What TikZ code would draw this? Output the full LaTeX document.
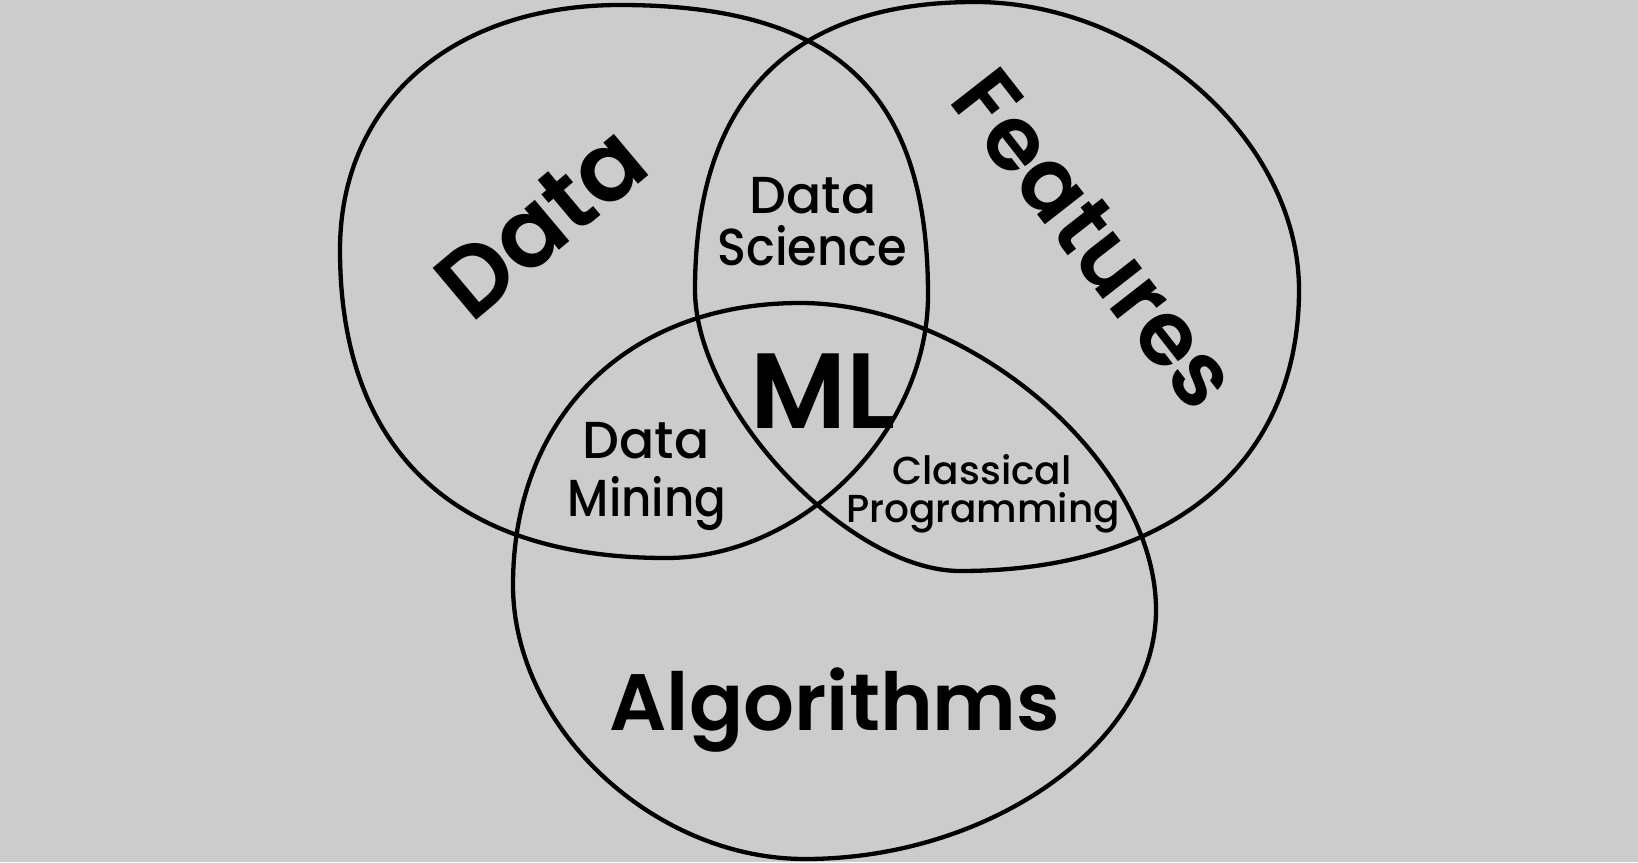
\documentclass[tikz,border=0pt]{standalone}
\usepackage{fontspec}
\setmainfont{Poppins}
\newfontfamily\popsemi{Poppins SemiBold}
\newfontfamily\popmed{Poppins Medium}
\definecolor{bg}{HTML}{CCCCCC}
\tikzset{
  blob/.style={draw=black, line width=4.3pt, line join=round},
  big/.style={font=\fontsize{97}{100}\selectfont\popsemi, inner sep=0pt},
  mid/.style={font=\fontsize{52}{56}\selectfont\popmed, inner sep=0pt, anchor=base},
  small/.style={font=\fontsize{39}{44}\selectfont\popmed, inner sep=0pt, anchor=base},
}
\begin{document}
\begin{tikzpicture}[x=1pt, y=-1pt]
\fill[bg] (0,0) rectangle (1638,862);
\useasboundingbox (0,0) rectangle (1638,862);
% Data
\draw[blob] (620,5) .. controls (836,5) and (928,92) .. (928,295)
  .. controls (928,432) and (802,558) .. (666,558)
  .. controls (454,558) and (340,450) .. (340,250)
  .. controls (340,103) and (452,5) .. (620,5) -- cycle;
% Features
\draw[blob] (975,2) .. controls (1143,2) and (1299,140) .. (1299,290)
  .. controls (1299,464) and (1170,571) .. (960,571)
  .. controls (849,571) and (695,408) .. (695,290)
  .. controls (695,99) and (790,2) .. (975,2) -- cycle;
% Algorithms
\draw[blob] (800,303) .. controls (971,303) and (1156,463) .. (1156,610)
  .. controls (1156,742) and (991,859) .. (805,859)
  .. controls (653,859) and (513,727) .. (513,585)
  .. controls (513,416) and (628,303) .. (800,303) -- cycle;
% labels
\node[big, rotate=40] (data) at (541,222) {Data};
\node[big, rotate=-52, font=\fontsize{90}{94}\selectfont\popsemi] (features) at (1095,239) {Features};
\node[mid] (ds1) at (813,213) {Data};
\node[mid] (ds2) at (812,265) {\scalebox{0.92}[1]{Science}};
\node[big, anchor=base, font=\fontsize{107}{110}\selectfont\popsemi] (ml) at (823,428) {ML};
\node[mid] (dm1) at (646,458) {Data};
\node[mid] (dm2) at (647,516) {\scalebox{0.9}[1]{Mining}};
\node[small] (cp1) at (982,484) {Classical};
\node[small] (cp2) at (983,522) {Programming};
\node[big, anchor=base, font=\fontsize{80}{84}\selectfont\popsemi] (alg) at (835,730) {Algorithms};
\end{tikzpicture}
\end{document}
